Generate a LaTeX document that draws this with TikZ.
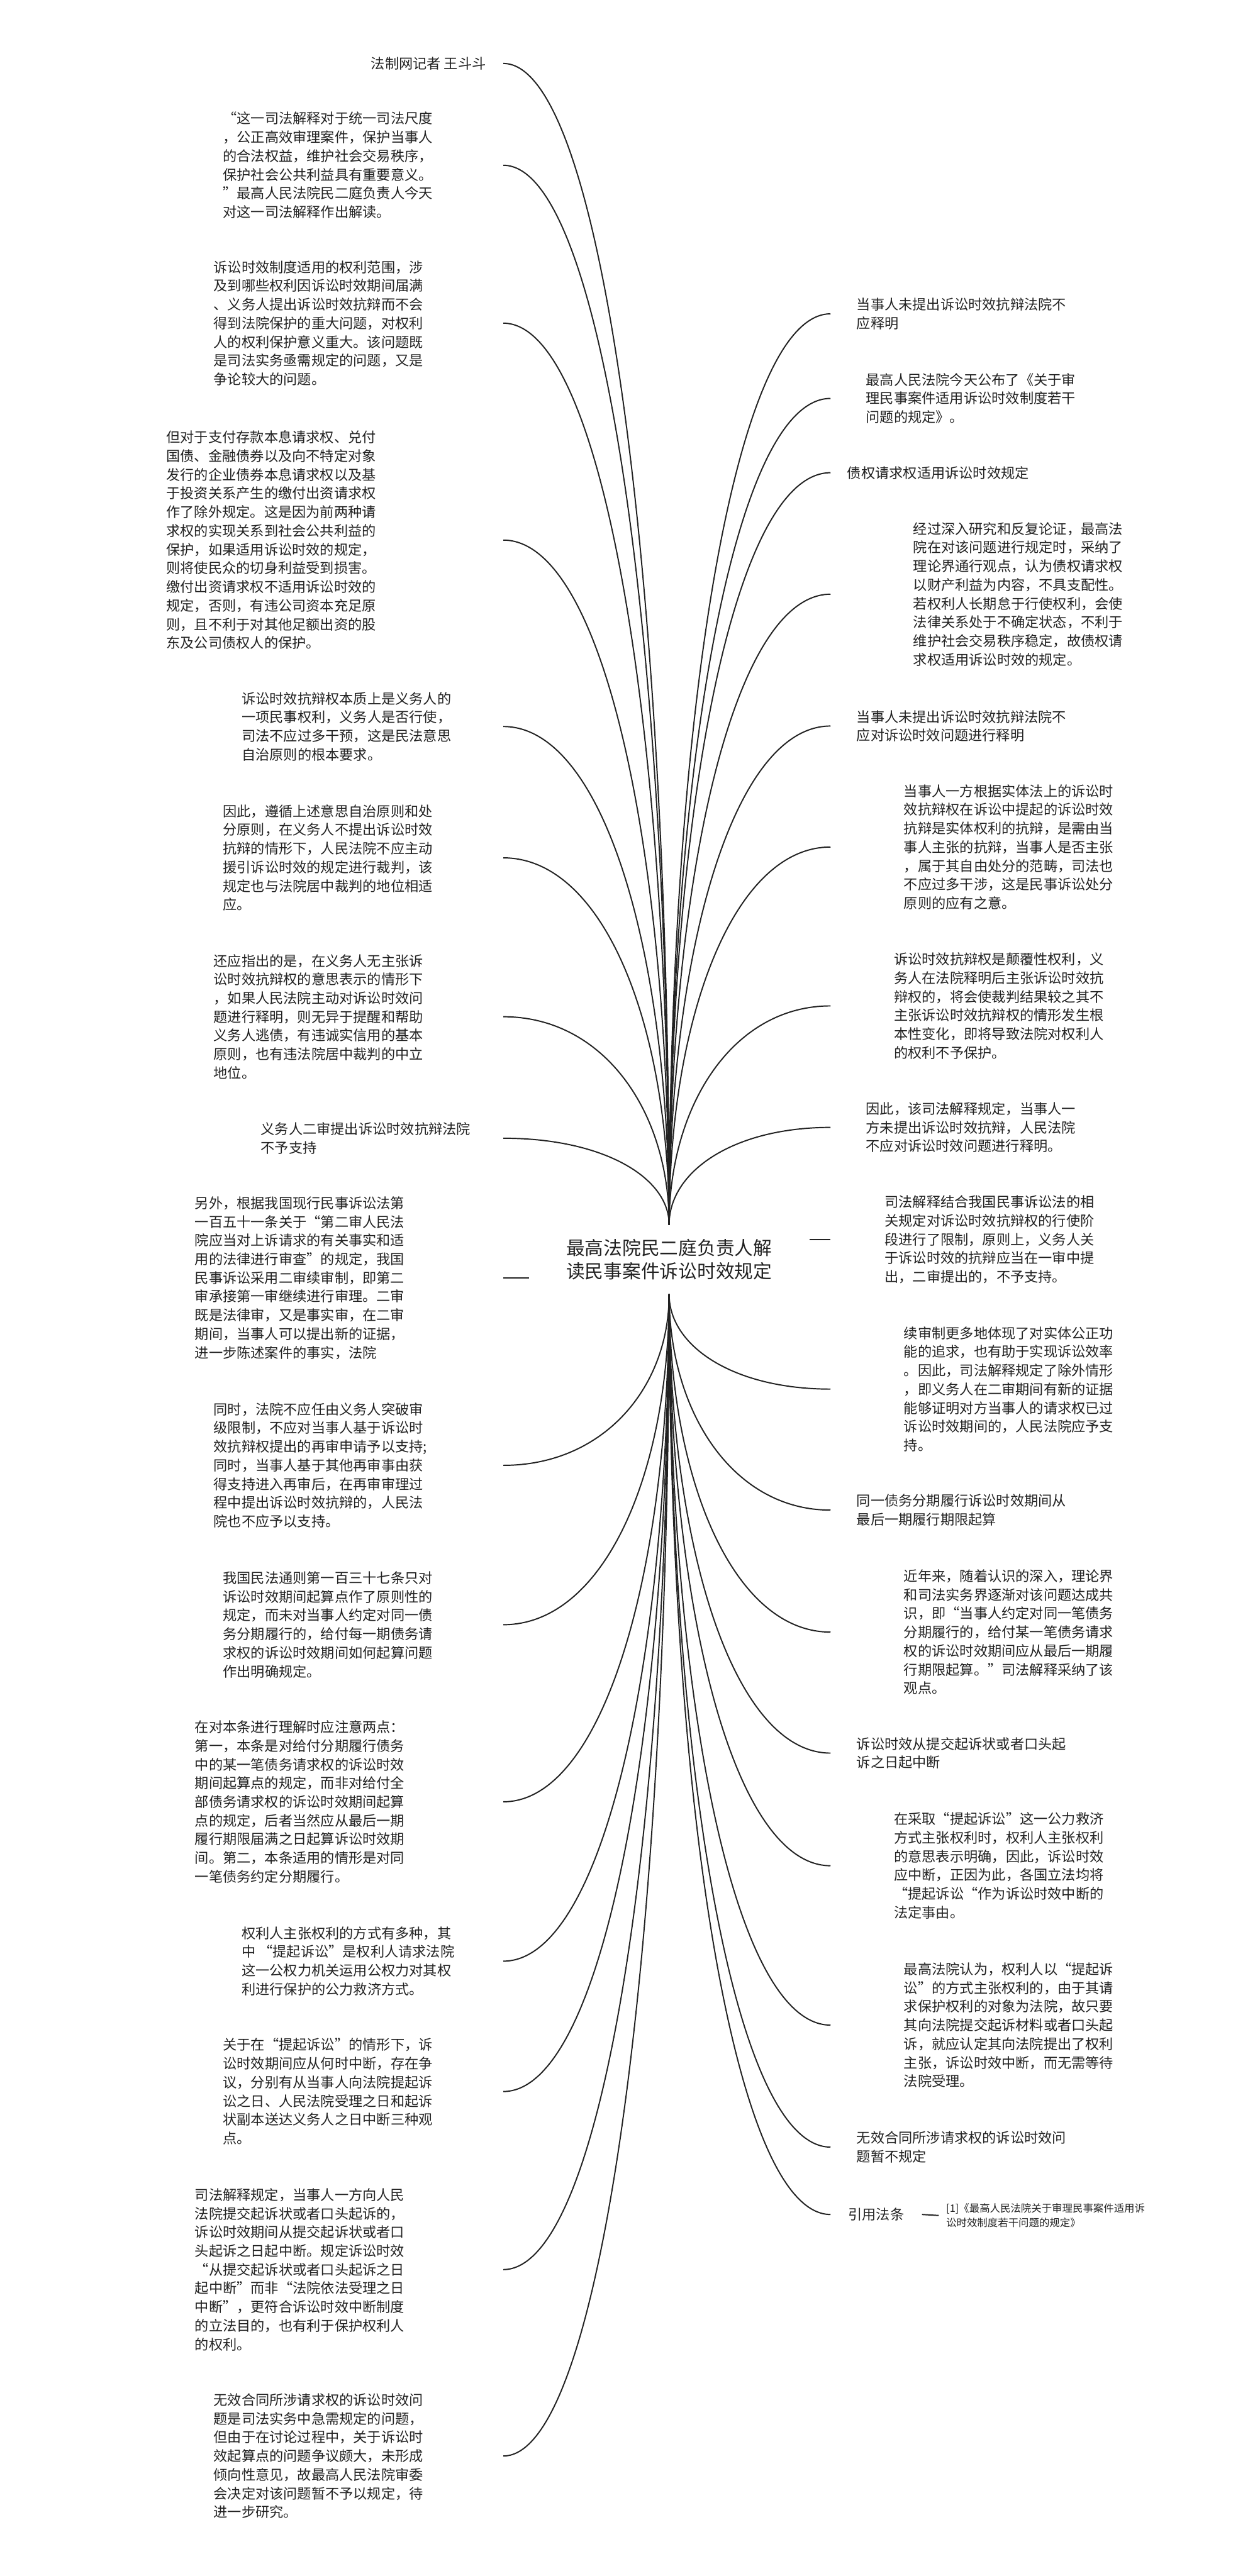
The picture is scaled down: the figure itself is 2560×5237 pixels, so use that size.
\documentclass[tikz,border=0pt]{standalone}
\usepackage{fontspec}
\newfontfamily\cjk{Noto Sans CJK SC}
\usetikzlibrary{calc}
\definecolor{ink}{HTML}{222222}
\tikzset{
  lt/.style={font=\cjk\fontsize{28.4}{38}\selectfont, align=left, inner sep=0pt, anchor=west, text=ink},
  rootbox/.style={font=\cjk\fontsize{38}{48}\selectfont, align=center, inner sep=0pt, minimum width=570, minimum height=141, text=ink},
  fnote/.style={font=\cjk\fontsize{21}{29}\selectfont, align=left, inner sep=0pt, anchor=west, text=ink},
  conn/.style={draw=ink, line width=2.5pt}
}
\newcommand{\brUL}[1]{\draw[conn] (#1.east -| Lx) .. controls ($(#1.east -| Lx)!0.6!(#1.east -| root.north)$) and ($(root.north)!0.55!(#1.east -| root.north)$) .. (root.north);}
\newcommand{\brDL}[1]{\draw[conn] (#1.east -| Lx) .. controls ($(#1.east -| Lx)!0.6!(#1.east -| root.south)$) and ($(root.south)!0.55!(#1.east -| root.south)$) .. (root.south);}
\newcommand{\brUR}[1]{\draw[conn] (#1.west -| Rx) .. controls ($(#1.west -| Rx)!0.6!(#1.west -| root.north)$) and ($(root.north)!0.55!(#1.west -| root.north)$) .. (root.north);}
\newcommand{\brDR}[1]{\draw[conn] (#1.west -| Rx) .. controls ($(#1.west -| Rx)!0.6!(#1.west -| root.south)$) and ($(root.south)!0.55!(#1.west -| root.south)$) .. (root.south);}
\begin{document}
\begin{tikzpicture}[x=1pt,y=-1pt]
\fill[white] (0,0) rectangle (2560,5237);
\useasboundingbox (0,0) rectangle (2560,5237);
\coordinate (Lx) at (1023,0);
\coordinate (Rx) at (1688,0);
\node[rootbox] (root) at (1360,2560.5) {最高法院民二庭负责人解\\读民事案件诉讼时效规定};
% left nodes
\node[lt] (l1) at (754,129) {法制网记者 王斗斗};
\node[lt] (l2) at (453,336) {“这一司法解释对于统一司法尺度\\
，公正高效审理案件，保护当事人\\
的合法权益，维护社会交易秩序，\\
保护社会公共利益具有重要意义。\\
”最高人民法院民二庭负责人今天\\
对这一司法解释作出解读。};
\node[lt] (l3) at (434,657) {诉讼时效制度适用的权利范围，涉\\
及到哪些权利因诉讼时效期间届满\\
、义务人提出诉讼时效抗辩而不会\\
得到法院保护的重大问题，对权利\\
人的权利保护意义重大。该问题既\\
是司法实务亟需规定的问题，又是\\
争论较大的问题。};
\node[lt] (l4) at (338,1098) {但对于支付存款本息请求权、兑付\\
国债、金融债券以及向不特定对象\\
发行的企业债券本息请求权以及基\\
于投资关系产生的缴付出资请求权\\
作了除外规定。这是因为前两种请\\
求权的实现关系到社会公共利益的\\
保护，如果适用诉讼时效的规定，\\
则将使民众的切身利益受到损害。\\
缴付出资请求权不适用诉讼时效的\\
规定，否则，有违公司资本充足原\\
则，且不利于对其他足额出资的股\\
东及公司债权人的保护。};
\node[lt] (l5) at (491,1477) {诉讼时效抗辩权本质上是义务人的\\
一项民事权利，义务人是否行使，\\
司法不应过多干预，这是民法意思\\
自治原则的根本要求。};
\node[lt] (l6) at (453,1744) {因此，遵循上述意思自治原则和处\\
分原则，在义务人不提出诉讼时效\\
抗辩的情形下，人民法院不应主动\\
援引诉讼时效的规定进行裁判，该\\
规定也与法院居中裁判的地位相适\\
应。};
\node[lt] (l7) at (434,2067) {还应指出的是，在义务人无主张诉\\
讼时效抗辩权的意思表示的情形下\\
，如果人民法院主动对诉讼时效问\\
题进行释明，则无异于提醒和帮助\\
义务人逃债，有违诚实信用的基本\\
原则，也有违法院居中裁判的中立\\
地位。};
\node[lt] (l8) at (530,2314) {义务人二审提出诉讼时效抗辩法院\\
不予支持};
\node[lt] (l9) at (396,2598) {另外，根据我国现行民事诉讼法第\\
一百五十一条关于“第二审人民法\\
院应当对上诉请求的有关事实和适\\
用的法律进行审查”的规定，我国\\
民事诉讼采用二审续审制，即第二\\
审承接第一审继续进行审理。二审\\
既是法律审，又是事实审，在二审\\
期间，当事人可以提出新的证据，\\
进一步陈述案件的事实，法院};
\node[lt] (l10) at (434,2979) {同时，法院不应任由义务人突破审\\
级限制，不应对当事人基于诉讼时\\
效抗辩权提出的再审申请予以支持;\\
同时，当事人基于其他再审事由获\\
得支持进入再审后，在再审审理过\\
程中提出诉讼时效抗辩的，人民法\\
院也不应予以支持。};
\node[lt] (l11) at (453,3303) {我国民法通则第一百三十七条只对\\
诉讼时效期间起算点作了原则性的\\
规定，而未对当事人约定对同一债\\
务分期履行的，给付每一期债务请\\
求权的诉讼时效期间如何起算问题\\
作出明确规定。};
\node[lt] (l12) at (396,3663) {在对本条进行理解时应注意两点：\\
第一，本条是对给付分期履行债务\\
中的某一笔债务请求权的诉讼时效\\
期间起算点的规定，而非对给付全\\
部债务请求权的诉讼时效期间起算\\
点的规定，后者当然应从最后一期\\
履行期限届满之日起算诉讼时效期\\
间。第二，本条适用的情形是对同\\
一笔债务约定分期履行。};
\node[lt] (l13) at (491,3987) {权利人主张权利的方式有多种，其\\
中 “提起诉讼”是权利人请求法院\\
这一公权力机关运用公权力对其权\\
利进行保护的公力救济方式。};
\node[lt] (l14) at (453,4252) {关于在“提起诉讼”的情形下，诉\\
讼时效期间应从何时中断，存在争\\
议，分别有从当事人向法院提起诉\\
讼之日、人民法院受理之日和起诉\\
状副本送达义务人之日中断三种观\\
点。};
\node[lt] (l15) at (396,4614) {司法解释规定，当事人一方向人民\\
法院提交起诉状或者口头起诉的，\\
诉讼时效期间从提交起诉状或者口\\
头起诉之日起中断。规定诉讼时效\\
“从提交起诉状或者口头起诉之日\\
起中断”而非“法院依法受理之日\\
中断”，更符合诉讼时效中断制度\\
的立法目的，也有利于保护权利人\\
的权利。};
\node[lt] (l16) at (434,4993) {无效合同所涉请求权的诉讼时效问\\
题是司法实务中急需规定的问题，\\
但由于在讨论过程中，关于诉讼时\\
效起算点的问题争议颇大，未形成\\
倾向性意见，故最高人民法院审委\\
会决定对该问题暂不予以规定，待\\
进一步研究。};
% right nodes
\node[lt] (r1) at (1741,638) {当事人未提出诉讼时效抗辩法院不\\
应释明};
\node[lt] (r2) at (1760,810) {最高人民法院今天公布了《关于审\\
理民事案件适用诉讼时效制度若干\\
问题的规定》。};
\node[lt] (r3) at (1722,961) {债权请求权适用诉讼时效规定};
\node[lt] (r4) at (1856,1208) {经过深入研究和反复论证，最高法\\
院在对该问题进行规定时，采纳了\\
理论界通行观点，认为债权请求权\\
以财产利益为内容，不具支配性。\\
若权利人长期怠于行使权利，会使\\
法律关系处于不确定状态，不利于\\
维护社会交易秩序稳定，故债权请\\
求权适用诉讼时效的规定。};
\node[lt] (r5) at (1741,1476) {当事人未提出诉讼时效抗辩法院不\\
应对诉讼时效问题进行释明};
\node[lt] (r6) at (1837,1722) {当事人一方根据实体法上的诉讼时\\
效抗辩权在诉讼中提起的诉讼时效\\
抗辩是实体权利的抗辩，是需由当\\
事人主张的抗辩，当事人是否主张\\
，属于其自由处分的范畴，司法也\\
不应过多干涉，这是民事诉讼处分\\
原则的应有之意。};
\node[lt] (r7) at (1817,2045) {诉讼时效抗辩权是颠覆性权利，义\\
务人在法院释明后主张诉讼时效抗\\
辩权的，将会使裁判结果较之其不\\
主张诉讼时效抗辩权的情形发生根\\
本性变化，即将导致法院对权利人\\
的权利不予保护。};
\node[lt] (r8) at (1760,2292) {因此，该司法解释规定，当事人一\\
方未提出诉讼时效抗辩，人民法院\\
不应对诉讼时效问题进行释明。};
\node[lt] (r9) at (1798,2520) {司法解释结合我国民事诉讼法的相\\
关规定对诉讼时效抗辩权的行使阶\\
段进行了限制，原则上，义务人关\\
于诉讼时效的抗辩应当在一审中提\\
出，二审提出的，不予支持。};
\node[lt] (r10) at (1837,2824) {续审制更多地体现了对实体公正功\\
能的追求，也有助于实现诉讼效率\\
。因此，司法解释规定了除外情形\\
，即义务人在二审期间有新的证据\\
能够证明对方当事人的请求权已过\\
诉讼时效期间的，人民法院应予支\\
持。};
\node[lt] (r11) at (1741,3070) {同一债务分期履行诉讼时效期间从\\
最后一期履行期限起算};
\node[lt] (r12) at (1837,3318) {近年来，随着认识的深入，理论界\\
和司法实务界逐渐对该问题达成共\\
识，即“当事人约定对同一笔债务\\
分期履行的，给付某一笔债务请求\\
权的诉讼时效期间应从最后一期履\\
行期限起算。”司法解释采纳了该\\
观点。};
\node[lt] (r13) at (1741,3564) {诉讼时效从提交起诉状或者口头起\\
诉之日起中断};
\node[lt] (r14) at (1817,3793) {在采取“提起诉讼”这一公力救济\\
方式主张权利时，权利人主张权利\\
的意思表示明确，因此，诉讼时效\\
应中断，正因为此，各国立法均将\\
“提起诉讼“作为诉讼时效中断的\\
法定事由。};
\node[lt] (r15) at (1837,4117) {最高法院认为，权利人以“提起诉\\
讼”的方式主张权利的，由于其请\\
求保护权利的对象为法院，故只要\\
其向法院提交起诉材料或者口头起\\
诉，就应认定其向法院提出了权利\\
主张，诉讼时效中断，而无需等待\\
法院受理。};
\node[lt] (r16) at (1741,4365) {无效合同所涉请求权的诉讼时效问\\
题暂不规定};
\node[lt, inner xsep=36pt] (r17) at (1688,4502) {引用法条};
\node[fnote, inner xsep=15pt] (fn) at (1908,4504) {[1]《最高人民法院关于审理民事案件适用诉\\
讼时效制度若干问题的规定》};
% connectors
\brUL{l1}\brUL{l2}\brUL{l3}\brUL{l4}\brUL{l5}\brUL{l6}\brUL{l7}\brUL{l8}
\draw[conn] (l9.east -| Lx) -- (l9.east -| root.west);
\brDL{l10}\brDL{l11}\brDL{l12}\brDL{l13}\brDL{l14}\brDL{l15}\brDL{l16}
\brUR{r1}\brUR{r2}\brUR{r3}\brUR{r4}\brUR{r5}\brUR{r6}\brUR{r7}\brUR{r8}
\draw[conn] (r9.west -| root.east) -- (r9.west -| Rx);
\brDR{r10}\brDR{r11}\brDR{r12}\brDR{r13}\brDR{r14}\brDR{r15}\brDR{r16}\brDR{r17}
\draw[conn] (r17.east) -- (fn.west);
\end{tikzpicture}
\end{document}
